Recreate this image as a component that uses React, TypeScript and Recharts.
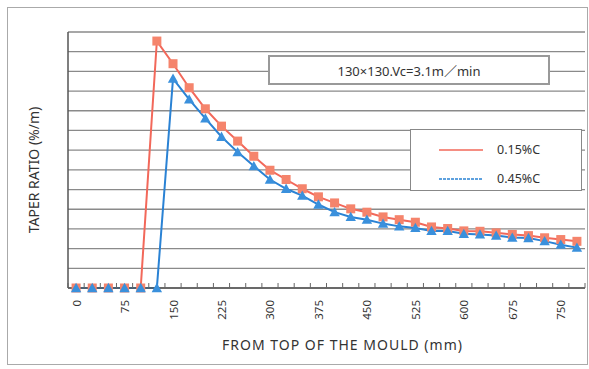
import React from "react";
import {
  LineChart,
  Line,
  XAxis,
  YAxis,
  CartesianGrid,
  Legend,
} from "recharts";

// distance from top of the mould (mm)
const distances = [
  0, 25, 50, 75, 100, 125, 150, 175, 200, 225, 250, 275, 300, 325, 350, 375,
  400, 425, 450, 475, 500, 525, 550, 575, 600, 625, 650, 675, 700, 725, 750, 775,
];

// taper ratio (%/m), 0.15%C
const taper015 = [
  0, 0, 0, 0, 0, 1.254, 1.139, 1.017, 0.91, 0.822, 0.746, 0.669, 0.598, 0.551,
  0.504, 0.463, 0.432, 0.402, 0.385, 0.361, 0.347, 0.334, 0.31, 0.302, 0.29,
  0.288, 0.28, 0.272, 0.266, 0.255, 0.246, 0.237,
];

// taper ratio (%/m), 0.45%C
const taper045 = [
  0, 0, 0, 0, 0, 0, 1.063, 0.958, 0.861, 0.768, 0.69, 0.619, 0.551, 0.504,
  0.469, 0.424, 0.385, 0.361, 0.347, 0.327, 0.313, 0.305, 0.29, 0.29, 0.275,
  0.272, 0.266, 0.256, 0.254, 0.238, 0.22, 0.205,
];

const xTickLabels = [0, 75, 150, 225, 300, 375, 450, 525, 600, 675, 750];
const yGridValues = [0, 0.1, 0.2, 0.3, 0.4, 0.5, 0.6, 0.7, 0.8, 0.9, 1.0, 1.1, 1.2, 1.3];

const seriesNames = ["0.15%C", "0.45%C"];
const titleText = "130×130.Vc=3.1m／min";

const data = distances.map((d, i) => ({
  d,
  c015: taper015[i],
  c045: taper045[i],
}));

const half = (distances[1] - distances[0]) / 2;
const xDomain = [distances[0] - half, distances[distances.length - 1] + half];
const xTicks = distances.flatMap((d) => [d - half, d]).concat([xDomain[1]]);

const FONT = "'Noto Sans', 'Noto Sans CJK JP', sans-serif";
const RED_LINE = "#F2685A";
const RED_MARK = "#F5846C";
const BLUE_LINE = "#2A82D4";
const BLUE_MARK = "#3A90DC";
const FRAME = { stroke: "#555", strokeWidth: 1.5 };

const EmptyTick = () => <g />;

const XTick = (props: any) => {
  const { x, y, payload } = props;
  const v = payload.value;
  if (xTickLabels.includes(v)) {
    const ty = y + 12;
    return (
      <text
        x={x}
        y={ty}
        transform={`rotate(-90 ${x} ${ty})`}
        textAnchor="end"
        dominantBaseline="central"
        fontSize={11.5}
        fontFamily={FONT}
        fill="#333"
      >
        {v}
      </text>
    );
  }
  const k = (v + half) / (2 * half);
  if (Math.abs(k - Math.round(k)) < 1e-6) {
    return <line x1={x} x2={x} y1={y - 5} y2={y} stroke="#666" strokeWidth={1} />;
  }
  return <g />;
};

const SquareDot = (p: any) => {
  const { cx, cy, index } = p;
  if (cx == null || cy == null) return <g key={`s-${index}`} />;
  const s = 9;
  return (
    <rect
      key={`s-${index}`}
      x={cx - s / 2}
      y={cy - s / 2}
      width={s}
      height={s}
      fill={RED_MARK}
      stroke="none"
    />
  );
};

const TriangleDot = (p: any) => {
  const { cx, cy, index } = p;
  if (cx == null || cy == null) return <g key={`t-${index}`} />;
  const r = 5.2;
  return (
    <polygon
      key={`t-${index}`}
      points={`${cx},${cy - r} ${cx - r},${cy + r * 0.8} ${cx + r},${cy + r * 0.8}`}
      fill={BLUE_MARK}
      stroke="none"
    />
  );
};

const renderLegend = () => (
  <div
    style={{
      width: 172,
      height: 62,
      border: "1.5px solid #888",
      background: "#fff",
      boxSizing: "border-box",
      fontFamily: FONT,
      fontSize: 12.5,
      color: "#333",
      paddingTop: 8,
    }}
  >
    {seriesNames.map((name, i) => (
      <div
        key={name}
        style={{ display: "flex", alignItems: "center", height: 23, marginTop: i === 0 ? 0 : 6 }}
      >
        <svg width={86} height={10}>
          <line
            x1={28}
            x2={72}
            y1={5}
            y2={5}
            stroke={i === 0 ? RED_LINE : BLUE_LINE}
            strokeWidth={1.5}
            strokeDasharray={i === 0 ? undefined : "3 1"}
          />
        </svg>
        <span>{name}</span>
      </div>
    ))}
  </div>
);

export default function App() {
  return (
    <div
      style={{
        position: "absolute",
        left: 0,
        top: 0,
        width: 589,
        height: 369,
        background: "#fff",
        overflow: "hidden",
      }}
    >
      <div
        style={{
          position: "absolute",
          left: 7,
          top: 7,
          width: 581,
          height: 358,
          border: "1px solid #aaa",
          boxSizing: "border-box",
        }}
      />
      <div style={{ position: "absolute", left: 0, top: 0 }}>
        <LineChart
          width={589}
          height={369}
          data={data}
          margin={{ top: 32, right: 4, bottom: 0, left: 8 }}
        >
          <CartesianGrid
            vertical={false}
            horizontal={true}
            stroke="#8a8a8a"
            strokeWidth={1.3}
          />
          <XAxis
            dataKey="d"
            type="number"
            domain={xDomain}
            ticks={xTicks}
            interval={0}
            tickSize={0}
            tickMargin={0}
            tickLine={false}
            tick={<XTick />}
            height={81}
            axisLine={FRAME}
            label={(lp: any) => {
              const vb = lp.viewBox;
              return (
                <text
                  x={vb.x + vb.width / 2 + 16}
                  y={vb.y + 56}
                  textAnchor="middle"
                  dominantBaseline="central"
                  fontSize={14}
                  letterSpacing={1}
                  fontFamily={FONT}
                  fill="#333"
                >
                  FROM TOP OF THE MOULD (mm)
                </text>
              );
            }}
          />
          <XAxis
            xAxisId="top"
            orientation="top"
            dataKey="d"
            type="number"
            domain={xDomain}
            height={0}
            tick={false}
            tickLine={false}
            axisLine={FRAME}
          />
          <YAxis
            domain={[0, 1.3]}
            ticks={yGridValues}
            interval={0}
            tick={<EmptyTick />}
            tickLine={false}
            width={60}
            axisLine={FRAME}
            label={(lp: any) => {
              const vb = lp.viewBox;
              const cx = vb.x + 25;
              const cy = vb.y + vb.height / 2 + 10;
              return (
                <text
                  x={cx}
                  y={cy}
                  transform={`rotate(-90 ${cx} ${cy})`}
                  textAnchor="middle"
                  dominantBaseline="central"
                  fontSize={14}
                  fontFamily={FONT}
                  fill="#333"
                >
                  TAPER RATIO (%/m)
                </text>
              );
            }}
          />
          <YAxis
            yAxisId="right"
            orientation="right"
            domain={[0, 1.3]}
            width={0}
            tick={false}
            tickLine={false}
            axisLine={FRAME}
          />
          <Line
            type="linear"
            dataKey="c015"
            name={seriesNames[0]}
            stroke={RED_LINE}
            strokeWidth={2}
            dot={SquareDot}
            activeDot={false}
            isAnimationActive={false}
          />
          <Line
            type="linear"
            dataKey="c045"
            name={seriesNames[1]}
            stroke={BLUE_LINE}
            strokeWidth={2}
            dot={TriangleDot}
            activeDot={false}
            isAnimationActive={false}
          />
          <Legend
            layout="vertical"
            align="center"
            verticalAlign="middle"
            content={renderLegend}
            wrapperStyle={{ position: "absolute", left: 410, top: 129, width: 172, height: 62 }}
          />
        </LineChart>
      </div>
      <div
        style={{
          position: "absolute",
          left: 268,
          top: 55,
          width: 282,
          height: 30,
          border: "2px solid #999",
          boxSizing: "border-box",
          background: "#fff",
          fontFamily: FONT,
          fontSize: 13,
          color: "#333",
          display: "flex",
          alignItems: "center",
          justifyContent: "center",
        }}
      >
        {titleText}
      </div>
    </div>
  );
}
